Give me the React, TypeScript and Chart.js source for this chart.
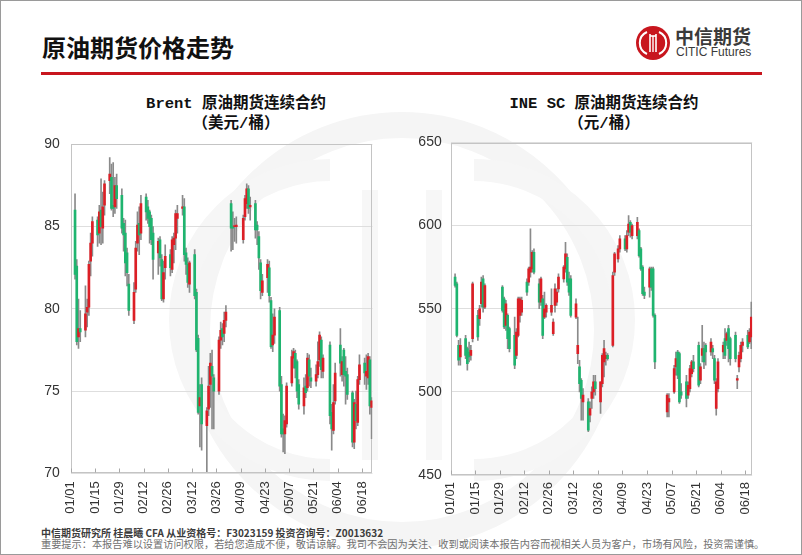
import React, { useEffect, useRef } from "react";
import { Chart, registerables } from "chart.js";
Chart.register(...registerables);

// ---------------- data ----------------
// day index = days since 2023-01-01
const brentDays = [
  2, 3, 4, 5,
  8, 9, 10, 11, 12,
  15, 16, 17, 18, 19,
  22, 23, 24, 25, 26,
  29, 30, 31, 32, 33,
  36, 37, 38, 39, 40,
  43, 44, 45, 46, 47,
  50, 51, 52, 53, 54,
  57, 58, 59, 60, 61,
  64, 65, 66, 67, 68,
  71, 72, 73, 74, 75,
  78, 79, 80, 81, 82,
  85, 86, 87, 88, 89,
  92, 93, 94, 95,
  99, 100, 101, 102, 103,
  106, 107, 108, 109, 110,
  113, 114, 115, 116, 117,
  120, 121, 122, 123, 124,
  127, 128, 129, 130, 131,
  134, 135, 136, 137, 138,
  141, 142, 143, 144, 145,
  149, 150, 151, 152,
  155, 156, 157, 158, 159,
  162, 163, 164, 165, 166,
  169, 170, 171, 172, 173,
];
const brentOpen = [
  86.0, 82.6, 78.3, 78.8,
  78.7, 79.8, 80.1, 82.9, 84.0,
  85.4, 84.6, 86.0, 84.9, 86.3,
  87.8, 88.0, 86.3, 86.2, 87.5,
  86.9, 85.2, 84.6, 83.4, 81.5,
  79.3, 81.2, 84.0, 85.2, 84.6,
  86.8, 86.2, 85.9, 85.5, 84.6,
  83.4, 84.2, 83.0, 80.6, 82.5,
  83.3, 82.4, 83.9, 84.3, 85.5,
  86.1, 86.2, 83.4, 82.7, 81.5,
  83.3, 81.0, 78.2, 74.1, 75.4,
  72.9, 73.9, 75.4, 76.5, 75.8,
  75.0, 78.1, 78.8, 78.5, 79.3,
  86.4, 85.0, 85.0, 85.0,
  84.2, 85.6, 86.4, 87.3, 86.2,
  86.4, 85.1, 84.4, 82.8, 81.0,
  81.9, 82.5, 80.5, 77.8, 78.4,
  79.9, 75.4, 72.7, 72.4, 73.0,
  75.5, 77.0, 77.3, 76.8, 75.4,
  74.1, 75.3, 75.2, 76.9, 75.8,
  75.6, 76.0, 76.9, 78.1, 76.2,
  77.8, 73.7, 72.6, 74.4,
  77.8, 76.0, 77.5, 76.2, 76.0,
  74.9, 71.9, 74.2, 73.1, 75.7,
  76.7, 75.9, 75.8, 76.9, 74.0,
];
const brentHigh = [
  87.0, 83.0, 80.6, 79.9,
  81.4, 80.6, 82.9, 84.6, 85.6,
  85.6, 86.3, 87.9, 87.1, 87.8,
  89.2, 88.8, 88.9, 88.0, 88.2,
  87.3, 85.5, 85.4, 83.7, 82.1,
  81.6, 84.1, 85.9, 86.2, 86.9,
  87.0, 86.6, 86.0, 85.7, 85.0,
  84.3, 84.4, 83.3, 82.9, 83.9,
  83.6, 84.4, 84.6, 86.0, 86.3,
  86.9, 86.7, 83.7, 83.1, 82.9,
  83.6, 81.2, 78.4, 75.4, 75.8,
  74.0, 76.5, 77.3, 77.5, 76.0,
  78.3, 79.2, 79.1, 79.8, 80.2,
  86.6, 85.9, 85.5, 85.6,
  85.7, 86.9, 87.6, 87.5, 86.8,
  86.6, 85.3, 84.7, 83.0, 82.1,
  83.0, 82.9, 80.7, 79.7, 80.0,
  80.1, 75.9, 73.6, 73.5, 75.5,
  77.5, 77.6, 77.5, 76.9, 75.7,
  75.8, 76.0, 77.3, 77.2, 76.4,
  76.6, 78.0, 78.6, 78.3, 77.2,
  78.0, 74.2, 75.4, 76.7,
  78.8, 77.1, 77.6, 77.1, 76.4,
  75.0, 74.5, 75.0, 75.9, 77.2,
  77.0, 77.2, 77.3, 77.1, 74.6,
];
const brentLow = [
  81.8, 77.8, 77.6, 78.0,
  78.3, 78.9, 79.6, 82.0, 83.2,
  83.8, 84.0, 83.9, 84.0, 85.7,
  87.0, 86.0, 85.6, 85.8, 86.1,
  84.6, 83.5, 82.0, 81.4, 79.6,
  79.1, 81.0, 83.5, 83.3, 84.2,
  85.4, 85.2, 84.0, 83.9, 81.8,
  82.1, 82.6, 80.5, 80.4, 81.8,
  82.0, 82.2, 82.8, 83.6, 84.6,
  85.7, 82.9, 82.1, 81.3, 81.0,
  80.6, 77.4, 73.6, 71.6, 71.4,
  70.1, 73.5, 74.0, 72.7, 72.7,
  74.8, 77.6, 77.8, 78.0, 78.9,
  83.5, 83.6, 84.1, 84.0,
  84.0, 85.4, 86.1, 85.8, 85.4,
  84.3, 83.9, 82.4, 80.6, 80.8,
  81.0, 80.4, 77.6, 77.4, 77.9,
  75.0, 72.2, 71.3, 71.2, 72.8,
  75.3, 76.4, 75.8, 74.6, 73.9,
  73.6, 74.6, 75.0, 75.3, 75.2,
  75.3, 75.8, 76.5, 75.8, 75.8,
  73.0, 71.4, 72.4, 74.2,
  75.9, 75.6, 75.3, 74.2, 74.5,
  71.6, 71.5, 72.7, 72.9, 75.4,
  75.4, 75.1, 75.4, 73.6, 72.1,
];
const brentClose = [
  82.1, 78.0, 78.8, 78.6,
  79.7, 80.1, 82.7, 84.0, 85.3,
  84.5, 85.9, 85.0, 86.2, 87.6,
  88.2, 86.1, 86.1, 87.5, 86.7,
  84.9, 84.5, 82.8, 82.2, 79.9,
  81.0, 83.7, 85.1, 84.5, 86.4,
  85.9, 85.5, 85.0, 84.2, 83.0,
  84.1, 83.1, 80.6, 82.2, 83.2,
  82.5, 84.2, 84.3, 85.8, 85.8,
  86.2, 83.3, 82.7, 81.6, 82.8,
  80.8, 77.5, 73.7, 74.6, 73.0,
  73.8, 75.3, 76.7, 75.9, 75.0,
  78.1, 78.7, 78.3, 79.3, 79.8,
  84.9, 84.9, 85.0, 85.1,
  85.5, 86.7, 87.3, 86.1, 86.3,
  84.8, 84.8, 83.1, 81.1, 81.7,
  82.7, 80.8, 77.7, 78.4, 79.5,
  75.3, 72.4, 72.4, 73.2, 75.3,
  77.1, 77.4, 76.4, 75.0, 74.2,
  75.2, 74.9, 77.0, 75.9, 75.6,
  76.0, 76.8, 78.4, 76.3, 77.0,
  73.5, 72.7, 74.3, 76.1,
  76.7, 76.8, 76.0, 75.9, 74.8,
  71.9, 74.3, 73.2, 75.7, 76.6,
  76.1, 76.2, 77.1, 74.1, 74.4,
];

const scDays = [
  2, 3, 4, 5,
  8, 9, 10, 11, 12,
  15, 16, 17, 18, 19,
  29, 30, 31, 32, 33,
  36, 37, 38, 39, 40,
  43, 44, 45, 46, 47,
  50, 51, 52, 53, 54,
  57, 58, 59, 60, 61,
  64, 65, 66, 67, 68,
  71, 72, 73, 74, 75,
  78, 79, 80, 81, 82,
  85, 86, 87, 88, 89,
  92, 93, 95, 96,
  99, 100, 101, 102, 103,
  106, 107, 108, 109, 110,
  113, 114, 115, 116,
  123, 124,
  127, 128, 129, 130, 131,
  134, 135, 136, 137, 138,
  141, 142, 143, 144, 145,
  148, 149, 150, 151, 152,
  155, 156, 157, 158, 159,
  162, 163, 164, 165, 166,
  169, 170, 171,
];
const scOpen = [
  569, 565, 528, 521,
  532, 526, 524, 522, 532,
  546, 544, 553, 568, 551,
  563, 556, 540, 546, 538,
  534, 522, 534, 546, 548,
  566, 566, 572, 574, 584,
  565, 554, 556, 545, 548,
  548, 535, 552, 554, 562,
  568, 574, 581, 568, 568,
  545, 523, 515, 507, 494,
  494, 486, 496, 500, 506,
  494, 505, 518, 520, 522,
  528, 572, 580, 586,
  592, 586, 596, 602, 594,
  594, 597, 586, 575, 560,
  563, 574, 574, 546,
  488, 494,
  500, 515, 524, 523, 500,
  506, 498, 502, 511, 518,
  528, 507, 522, 526, 528,
  524, 526, 520, 490, 502,
  524, 532, 531, 538, 532,
  534, 507, 515, 520, 528,
  534, 530, 533,
];
const scHigh = [
  571, 566, 531, 532,
  534, 527, 530, 528, 566,
  549, 552, 569, 570, 565,
  564, 557, 555, 547, 539,
  545, 538, 557, 557, 557,
  568, 575, 598, 585, 586,
  568, 569, 558, 560, 553,
  562, 544, 565, 562, 571,
  576, 590, 583, 572, 570,
  556, 545, 519, 508, 502,
  496, 494, 503, 510, 510,
  506, 523, 531, 524, 523,
  572, 584, 588, 594,
  594, 597, 606, 603, 601,
  605, 598, 587, 576, 563,
  575, 575, 575, 547,
  499, 499,
  516, 524, 525, 524, 505,
  510, 506, 516, 519, 522,
  530, 517, 540, 530, 529,
  532, 528, 522, 508, 520,
  530, 538, 536, 540, 533,
  536, 510, 524, 530, 532,
  537, 538, 554,
];
const scLow = [
  563, 533, 516, 516,
  520, 513, 518, 519, 530,
  531, 540, 551, 548, 550,
  548, 538, 537, 526, 524,
  514, 520, 533, 542, 546,
  558, 564, 569, 572, 571,
  550, 552, 532, 544, 545,
  546, 534, 548, 552, 560,
  566, 572, 564, 558, 545,
  544, 517, 500, 483, 483,
  476, 482, 490, 496, 498,
  487, 503, 509, 516, 519,
  527, 570, 578, 584,
  585, 584, 594, 593, 592,
  592, 581, 573, 558, 556,
  557, 561, 545, 514,
  485, 485,
  499, 510, 508, 493, 496,
  491, 496, 500, 509, 512,
  503, 505, 518, 514, 516,
  522, 520, 505, 486, 500,
  520, 520, 528, 518, 516,
  518, 502, 512, 518, 524,
  526, 529, 526,
];
const scClose = [
  564, 534, 519, 528,
  522, 517, 521, 525, 565,
  533, 550, 566, 551, 564,
  549, 539, 553, 532, 526,
  516, 536, 556, 556, 555,
  560, 574, 575, 584, 572,
  554, 568, 534, 550, 552,
  552, 542, 562, 560, 569,
  575, 583, 566, 560, 546,
  553, 528, 505, 496, 498,
  477, 490, 500, 506, 502,
  506, 522, 526, 522, 520,
  570, 583, 586, 592,
  586, 594, 601, 596, 600,
  602, 582, 574, 559, 558,
  574, 563, 546, 518,
  498, 496,
  514, 520, 510, 494, 498,
  496, 504, 514, 518, 514,
  504, 515, 526, 518, 524,
  530, 524, 507, 506, 518,
  528, 522, 535, 526, 520,
  520, 508, 522, 528, 530,
  527, 536, 545,
];

const xTickDays = [0, 14, 28, 42, 56, 70, 84, 98, 112, 126, 140, 154, 168];
const brentYTicks = [70, 75, 80, 85, 90];
const scYTicks = [450, 500, 550, 600, 650];

// ---------------- styles ----------------
const UP = "#dc1f26";
const DOWN = "#1fb46f";
const WICK = "#8a8a8a";
const TICK_FONT = "'Liberation Sans', Arial, sans-serif";

function dayLabel(d: number): string {
  const dt = new Date(Date.UTC(2023, 0, 1 + d));
  const m = String(dt.getUTCMonth() + 1).padStart(2, "0");
  const dd = String(dt.getUTCDate()).padStart(2, "0");
  return `${m}/${dd}`;
}

const framePlugin = {
  id: "frame",
  beforeDatasetsDraw(chart: any) {
    const { ctx, chartArea: a, scales } = chart;
    ctx.save();
    ctx.strokeStyle = "#c4c4c4";
    ctx.lineWidth = 1;
    const l = Math.round(a.left) + 0.5;
    const t = Math.round(a.top) + 0.5;
    const r = Math.round(a.right) - 0.5;
    const b = Math.round(a.bottom) - 0.5;
    ctx.strokeRect(l, t, r - l, b - t);
    const xs = scales.x;
    ctx.strokeStyle = "#a8a8a8";
    ctx.beginPath();
    for (const tk of xs.ticks) {
      const px = Math.round(xs.getPixelForValue(tk.value)) + 0.5;
      ctx.moveTo(px, b);
      ctx.lineTo(px, b - 4);
    }
    ctx.stroke();
    ctx.restore();
  },
};

type CandleProps = {
  days: number[];
  open: number[];
  high: number[];
  low: number[];
  close: number[];
  yTicks: number[];
  xMax: number;
  left: number;
  top: number;
  width: number;
  height: number;
  yWidth: number;
  xHeight: number;
  padTop: number;
  padRight: number;
  yPad: number;
  xPad: number;
};

function CandleChart(p: CandleProps) {
  const ref = useRef<HTMLCanvasElement | null>(null);
  useEffect(() => {
    if (!ref.current) return;
    const bodies = p.days.map((d, i) => ({ x: d + 0.5, y: [p.open[i], p.close[i]] }));
    const wicks = p.days.map((d, i) => ({ x: d + 0.5, y: [p.low[i], p.high[i]] }));
    const colors = p.days.map((_, i) => (p.close[i] >= p.open[i] ? UP : DOWN));
    const chart = new Chart(ref.current, {
      type: "bar",
      data: {
        datasets: [
          {
            data: bodies as any,
            backgroundColor: colors,
            barThickness: 2,
            minBarLength: 1,
            grouped: false,
            order: 0,
          } as any,
          {
            data: wicks as any,
            backgroundColor: WICK,
            barThickness: 1,
            grouped: false,
            order: 1,
          } as any,
        ],
      },
      options: {
        animation: false,
        responsive: false,
        devicePixelRatio: 1,
        layout: { padding: { top: p.padTop, right: p.padRight, left: 0, bottom: 0 } },
        plugins: { legend: { display: false }, tooltip: { enabled: false }, title: { display: false } },
        scales: {
          x: {
            type: "linear",
            min: 0,
            max: p.xMax,
            offset: false,
            grid: { display: false, drawTicks: false },
            border: { display: false },
            afterBuildTicks: (s: any) => {
              s.ticks = xTickDays.map((v) => ({ value: v }));
            },
            afterFit: (s: any) => {
              s.height = p.xHeight;
            },
            ticks: {
              autoSkip: false,
              maxRotation: 90,
              minRotation: 90,
              padding: p.xPad,
              color: "#333333",
              font: { family: TICK_FONT, size: 13 },
              callback: (v: any) => dayLabel(Number(v)),
            },
          },
          y: {
            type: "linear",
            min: p.yTicks[0],
            max: p.yTicks[p.yTicks.length - 1],
            grid: { color: "#dedede", drawTicks: false },
            border: { display: false },
            afterBuildTicks: (s: any) => {
              s.ticks = p.yTicks.map((v) => ({ value: v }));
            },
            afterFit: (s: any) => {
              s.width = p.yWidth;
            },
            ticks: {
              padding: p.yPad,
              color: "#333333",
              font: { family: TICK_FONT, size: 14 },
            },
          },
        },
      } as any,
      plugins: [framePlugin as any],
    });
    return () => chart.destroy();
  }, []);
  return (
    <canvas
      ref={ref}
      width={p.width}
      height={p.height}
      style={{ position: "absolute", left: p.left, top: p.top, width: p.width, height: p.height }}
    />
  );
}

function Logo() {
  return (
    <svg width={36} height={36} viewBox="0 0 36 36" style={{ position: "absolute", left: 635, top: 25 }}>
      <circle cx={18} cy={18} r={17} fill="#c8161e" />
      <path d="M12 7 A12 12 0 0 0 12 29" stroke="#fff" strokeWidth={2} fill="none" />
      <path d="M24 7 A12 12 0 0 1 24 29" stroke="#fff" strokeWidth={2} fill="none" />
      <line x1={15} y1={9} x2={15} y2={27} stroke="#fff" strokeWidth={1.6} />
      <line x1={21} y1={9} x2={21} y2={27} stroke="#fff" strokeWidth={1.6} />
      <line x1={15} y1={11} x2={21} y2={11} stroke="#fff" strokeWidth={1.6} />
      <line x1={18} y1={11} x2={18} y2={27} stroke="#fff" strokeWidth={1.4} />
    </svg>
  );
}

function Watermark() {
  return (
    <svg width={802} height={555} style={{ position: "absolute", left: 0, top: 0 }}>
      <circle cx={402} cy={330} r={205} stroke="#f5f5f5" strokeWidth={26} fill="none" />
      <path d="M330 170 A150 150 0 0 0 330 470" stroke="#f6f6f6" strokeWidth={22} fill="none" />
      <path d="M474 170 A150 150 0 0 1 474 470" stroke="#f6f6f6" strokeWidth={22} fill="none" />
      <rect x={362} y={190} width={16} height={270} fill="#f7f7f7" />
      <rect x={426} y={190} width={16} height={270} fill="#f7f7f7" />
    </svg>
  );
}

export default function App() {
  const titleFont = "'Liberation Mono', 'Noto Sans CJK SC', monospace";
  return (
    <div
      style={{
        position: "absolute",
        left: 0,
        top: 0,
        width: 802,
        height: 555,
        background: "#ffffff",
        overflow: "hidden",
        fontFamily: "'Noto Sans CJK SC', sans-serif",
      }}
    >
      <Watermark />
      <div style={{ position: "absolute", left: 42, top: 35, fontSize: 24, lineHeight: "24px", fontWeight: 700, color: "#111", whiteSpace: "nowrap" }}>
        原油期货价格走势
      </div>
      <div style={{ position: "absolute", left: 41, top: 72, width: 721, height: 3, background: "#c8161e" }} />
      <Logo />
      <div style={{ position: "absolute", left: 675, top: 26, fontSize: 19, lineHeight: "19px", fontWeight: 700, color: "#3a3a3a", whiteSpace: "nowrap" }}>
        中信期货
      </div>
      <div style={{ position: "absolute", left: 676, top: 46, fontSize: 12, lineHeight: "12px", color: "#3a3a3a", fontFamily: TICK_FONT, whiteSpace: "nowrap" }}>
        CITIC Futures
      </div>

      <div style={{ position: "absolute", left: 86, top: 96, width: 300, textAlign: "center", fontSize: 15.5, lineHeight: "16px", fontWeight: 700, color: "#111", fontFamily: titleFont, whiteSpace: "nowrap" }}>
        Brent 原油期货连续合约
      </div>
      <div style={{ position: "absolute", left: 86, top: 116, width: 300, textAlign: "center", fontSize: 15.5, lineHeight: "16px", fontWeight: 700, color: "#111", fontFamily: titleFont, whiteSpace: "nowrap" }}>
        （美元/桶）
      </div>
      <div style={{ position: "absolute", left: 454, top: 96, width: 300, textAlign: "center", fontSize: 15.5, lineHeight: "16px", fontWeight: 700, color: "#111", fontFamily: titleFont, whiteSpace: "nowrap" }}>
        INE SC 原油期货连续合约
      </div>
      <div style={{ position: "absolute", left: 454, top: 116, width: 300, textAlign: "center", fontSize: 15.5, lineHeight: "16px", fontWeight: 700, color: "#111", fontFamily: titleFont, whiteSpace: "nowrap" }}>
        （元/桶）
      </div>

      <CandleChart
        days={brentDays}
        open={brentOpen}
        high={brentHigh}
        low={brentLow}
        close={brentClose}
        yTicks={brentYTicks}
        xMax={174}
        left={10}
        top={125}
        width={376}
        height={395}
        yWidth={60.7}
        xHeight={46.7}
        padTop={17.7}
        padRight={10}
        yPad={11}
        xPad={8}
      />
      <CandleChart
        days={scDays}
        open={scOpen}
        high={scHigh}
        low={scLow}
        close={scClose}
        yTicks={scYTicks}
        xMax={172}
        left={390}
        top={125}
        width={378}
        height={395}
        yWidth={60.7}
        xHeight={45}
        padTop={17.5}
        padRight={10.7}
        yPad={9}
        xPad={7}
      />

      <div style={{ position: "absolute", left: 41, top: 526.5, fontSize: 10, lineHeight: "12px", fontWeight: 700, color: "#3c3c3c", whiteSpace: "nowrap" }}>
        中信期货研究所 桂晨曦 CFA 从业资格号：F3023159 投资咨询号：Z0013632
      </div>
      <div style={{ position: "absolute", left: 41, top: 538, fontSize: 10.2, lineHeight: "12px", color: "#707070", whiteSpace: "nowrap" }}>
        重要提示：本报告难以设置访问权限，若给您造成不便，敬请谅解。我司不会因为关注、收到或阅读本报告内容而视相关人员为客户，市场有风险，投资需谨慎。
      </div>
      <div style={{ position: "absolute", left: 0, top: 0, width: 802, height: 555, boxSizing: "border-box", border: "1px solid #9a9a9a", pointerEvents: "none" }} />
    </div>
  );
}
